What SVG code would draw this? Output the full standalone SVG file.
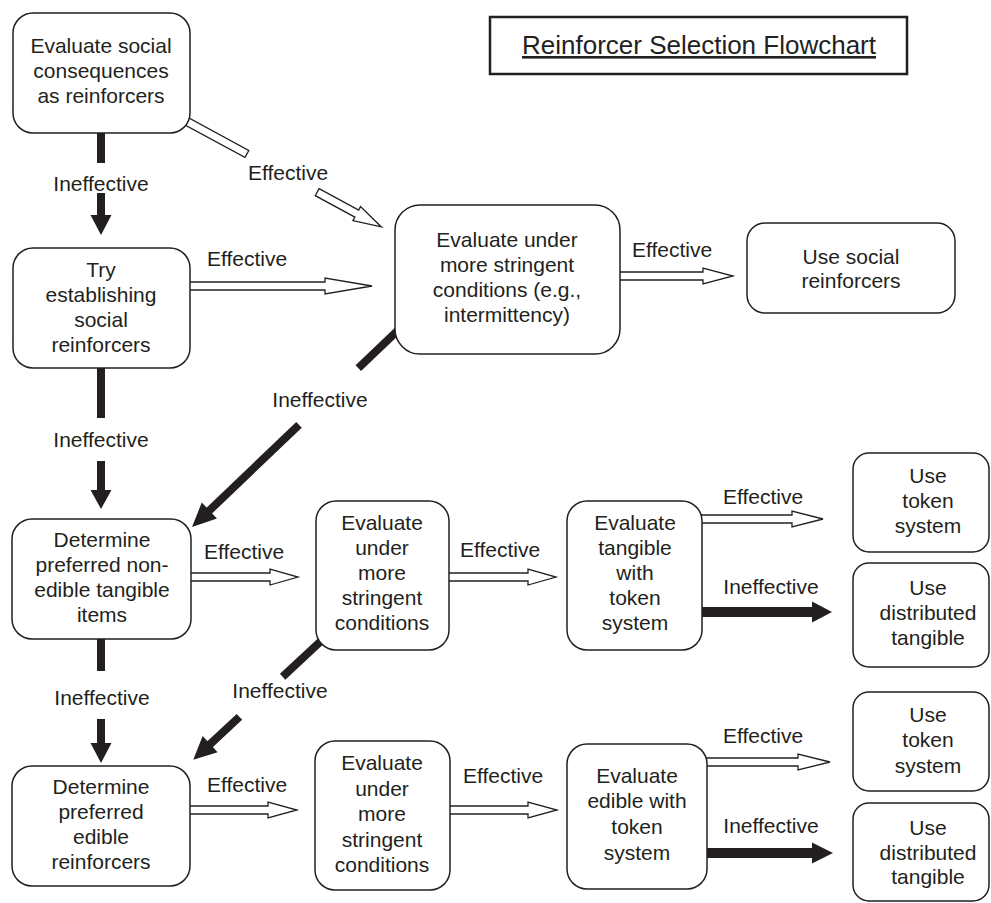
<svg xmlns="http://www.w3.org/2000/svg" width="991" height="903" viewBox="0 0 991 903">
<style>
  .box { fill: #ffffff; stroke: #231f20; stroke-width: 1.5; }
  .t { font-family: "Liberation Sans", Arial, sans-serif; font-size: 21px; fill: #231f20; text-anchor: middle; }
  .lbl { font-family: "Liberation Sans", Arial, sans-serif; font-size: 21px; fill: #231f20; text-anchor: middle; }
  .hol { fill: #ffffff; stroke: #231f20; stroke-width: 1.3; stroke-linejoin: miter; }
  .sol { fill: #231f20; stroke: none; }
</style>
<rect width="991" height="903" fill="#ffffff"/>

<g id="connectors">
  <!-- node1 -> node2 (Ineffective) -->
  <rect class="sol" x="97" y="128" width="8" height="35"/>
  <rect class="sol" x="97" y="193" width="8" height="23"/>
  <polygon class="sol" points="90.5,215 111.5,215 101,235"/>
  <text class="lbl" x="101" y="191">Ineffective</text>

  <!-- node1 -> node3 (Effective, diagonal hollow) -->
  <g transform="translate(188,122) rotate(28.5)">
    <rect class="hol" x="-6" y="-4" width="73" height="8"/>
    <polygon class="hol" points="147,-4 192,-4 192,-8 220,0 192,8 192,4 147,4"/>
  </g>
  <text class="lbl" x="288" y="180">Effective</text>

  <!-- node2 -> node3 (Effective) -->
  <polygon class="hol" points="186,282 325,282 325,278 372,286 325,294 325,290 186,290"/>
  <text class="lbl" x="247" y="266">Effective</text>

  <!-- node3 -> node4 (Effective) -->
  <polygon class="hol" points="616,272 703,272 703,268 733,276 703,284 703,280 616,280"/>
  <text class="lbl" x="672" y="257">Effective</text>

  <!-- node3 -> node5 (Ineffective, diagonal) -->
  <g transform="translate(393,335) rotate(136.3)">
    <rect class="sol" x="-10" y="-4" width="58" height="8"/>
    <rect class="sol" x="130" y="-4" width="126" height="8"/>
    <polygon class="sol" points="254,-11 278,0 254,11"/>
  </g>
  <text class="lbl" x="320" y="407">Ineffective</text>

  <!-- node2 -> node5 (Ineffective) -->
  <rect class="sol" x="97" y="363" width="8" height="55"/>
  <rect class="sol" x="97" y="461" width="8" height="30"/>
  <polygon class="sol" points="90.5,490 111.5,490 101,509"/>
  <text class="lbl" x="101" y="447">Ineffective</text>

  <!-- row 1 -->
  <polygon class="hol" points="188,573 270,573 270,569 298,577 270,585 270,581 188,581"/>
  <text class="lbl" x="244" y="559">Effective</text>
  <polygon class="hol" points="445,573 528,573 528,569 556,577 528,585 528,581 445,581"/>
  <text class="lbl" x="500" y="557">Effective</text>
  <polygon class="hol" points="698,515 792,515 792,511 823,519 792,527 792,523 698,523"/>
  <text class="lbl" x="763" y="504">Effective</text>
  <rect class="sol" x="698" y="607" width="115" height="10"/>
  <polygon class="sol" points="812,601.5 832,612 812,622.5"/>
  <text class="lbl" x="771" y="594">Ineffective</text>

  <!-- node5 -> node9 (Ineffective) -->
  <rect class="sol" x="97" y="634" width="8" height="37"/>
  <rect class="sol" x="97" y="719" width="8" height="25"/>
  <polygon class="sol" points="90.5,743 111.5,743 101,763"/>
  <text class="lbl" x="102" y="705">Ineffective</text>

  <!-- node6 -> node9 (Ineffective, diagonal) -->
  <g transform="translate(320,642) rotate(137.1)">
    <rect class="sol" x="-10" y="-4" width="61" height="8"/>
    <rect class="sol" x="110" y="-4" width="42" height="8"/>
    <polygon class="sol" points="150,-11 173,0 150,11"/>
  </g>
  <text class="lbl" x="280" y="698">Ineffective</text>

  <!-- row 2 -->
  <polygon class="hol" points="186,806 268,806 268,802 297,810 268,818 268,814 186,814"/>
  <text class="lbl" x="247" y="792">Effective</text>
  <polygon class="hol" points="446,806 528,806 528,802 557,810 528,818 528,814 446,814"/>
  <text class="lbl" x="503" y="783">Effective</text>
  <polygon class="hol" points="703,758 798,758 798,754 830,762 798,770 798,766 703,766"/>
  <text class="lbl" x="763" y="743">Effective</text>
  <rect class="sol" x="703" y="848" width="110" height="10"/>
  <polygon class="sol" points="812,842.5 833,853 812,863.5"/>
  <text class="lbl" x="771" y="833">Ineffective</text>
</g>

<g id="title">
  <rect x="490" y="17" width="417" height="57" fill="#ffffff" stroke="#231f20" stroke-width="2.5"/>
  <text x="699" y="54" font-family="Liberation Sans, Arial, sans-serif" font-size="26" fill="#231f20" text-anchor="middle" text-decoration="underline">Reinforcer Selection Flowchart</text>
</g>

<g id="node1">
  <rect class="box" x="13" y="13" width="177" height="120" rx="20"/>
  <text class="t" x="101" y="53">Evaluate social</text>
  <text class="t" x="101" y="78">consequences</text>
  <text class="t" x="101" y="103">as reinforcers</text>
</g>

<g id="node2">
  <rect class="box" x="13" y="248" width="177" height="120" rx="20"/>
  <text class="t" x="101" y="277">Try</text>
  <text class="t" x="101" y="302">establishing</text>
  <text class="t" x="101" y="327">social</text>
  <text class="t" x="101" y="352">reinforcers</text>
</g>

<g id="node3">
  <rect class="box" x="395" y="205" width="225" height="149" rx="25"/>
  <text class="t" x="507" y="247">Evaluate under</text>
  <text class="t" x="507" y="272">more stringent</text>
  <text class="t" x="507" y="297">conditions (e.g.,</text>
  <text class="t" x="507" y="322">intermittency)</text>
</g>

<g id="node4">
  <rect class="box" x="747" y="223" width="208" height="90" rx="18"/>
  <text class="t" x="851" y="264">Use social</text>
  <text class="t" x="851" y="288">reinforcers</text>
</g>

<g id="node5">
  <rect class="box" x="12" y="519" width="179" height="120" rx="20"/>
  <text class="t" x="102" y="547">Determine</text>
  <text class="t" x="102" y="572">preferred non-</text>
  <text class="t" x="102" y="597">edible tangible</text>
  <text class="t" x="102" y="622">items</text>
</g>

<g id="node6">
  <rect class="box" x="316" y="501" width="133" height="149" rx="20"/>
  <text class="t" x="382" y="530">Evaluate</text>
  <text class="t" x="382" y="555">under</text>
  <text class="t" x="382" y="580">more</text>
  <text class="t" x="382" y="605">stringent</text>
  <text class="t" x="382" y="630">conditions</text>
</g>

<g id="node7">
  <rect class="box" x="567" y="501" width="135" height="149" rx="20"/>
  <text class="t" x="635" y="530">Evaluate</text>
  <text class="t" x="635" y="555">tangible</text>
  <text class="t" x="635" y="580">with</text>
  <text class="t" x="635" y="605">token</text>
  <text class="t" x="635" y="630">system</text>
</g>

<g id="node8a">
  <rect class="box" x="853" y="453" width="136" height="99" rx="16"/>
  <text class="t" x="928" y="483">Use</text>
  <text class="t" x="928" y="508">token</text>
  <text class="t" x="928" y="533">system</text>
</g>

<g id="node8b">
  <rect class="box" x="853" y="563" width="136" height="104" rx="16"/>
  <text class="t" x="928" y="595">Use</text>
  <text class="t" x="928" y="620">distributed</text>
  <text class="t" x="928" y="645">tangible</text>
</g>

<g id="node9">
  <rect class="box" x="12" y="766" width="178" height="120" rx="20"/>
  <text class="t" x="101" y="794">Determine</text>
  <text class="t" x="101" y="819">preferred</text>
  <text class="t" x="101" y="844">edible</text>
  <text class="t" x="101" y="869">reinforcers</text>
</g>

<g id="node10">
  <rect class="box" x="315" y="741" width="135" height="149" rx="20"/>
  <text class="t" x="382" y="770">Evaluate</text>
  <text class="t" x="382" y="796">under</text>
  <text class="t" x="382" y="821">more</text>
  <text class="t" x="382" y="847">stringent</text>
  <text class="t" x="382" y="872">conditions</text>
</g>

<g id="node11">
  <rect class="box" x="567" y="744" width="140" height="145" rx="20"/>
  <text class="t" x="637" y="783">Evaluate</text>
  <text class="t" x="637" y="808">edible with</text>
  <text class="t" x="637" y="834">token</text>
  <text class="t" x="637" y="860">system</text>
</g>

<g id="node12a">
  <rect class="box" x="853" y="692" width="136" height="99" rx="16"/>
  <text class="t" x="928" y="722">Use</text>
  <text class="t" x="928" y="747">token</text>
  <text class="t" x="928" y="773">system</text>
</g>

<g id="node12b">
  <rect class="box" x="853" y="803" width="136" height="98" rx="16"/>
  <text class="t" x="928" y="835">Use</text>
  <text class="t" x="928" y="860">distributed</text>
  <text class="t" x="928" y="884">tangible</text>
</g>
</svg>
